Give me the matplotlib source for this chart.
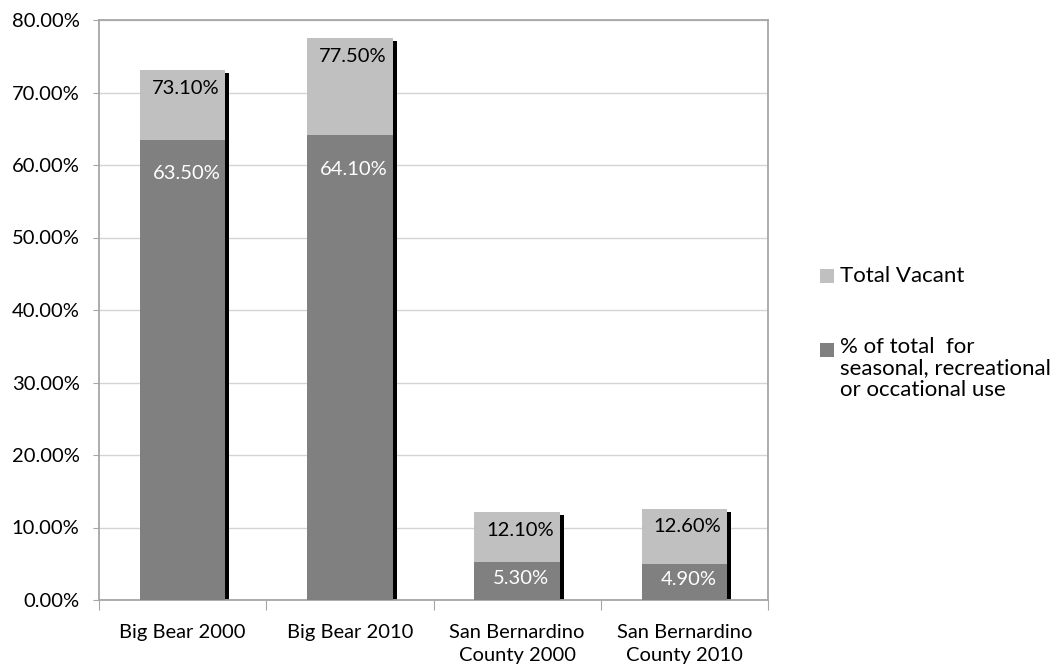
import numpy as np
import matplotlib
matplotlib.use('Agg')
from matplotlib import pyplot as plt
from matplotlib import transforms
from matplotlib.patches import Rectangle

plt.rcParams['font.family'] = ['Lato', 'DejaVu Sans']

categories = ['Big Bear 2000', 'Big Bear 2010', 'San Bernardino\nCounty 2000', 'San Bernardino\nCounty 2010']
total_vacant = [73.1, 77.5, 12.1, 12.6]
seasonal = [63.5, 64.1, 5.3, 4.9]
legend_labels = ['Total Vacant', '% of total  for\nseasonal, recreational\nor occational use']

light = '#c0c0c0'
dark = '#808080'
frame = '#a6a6a6'

fig = plt.figure(figsize=(10.61, 6.72), dpi=100)
ax = fig.add_axes([99/1061, 72/672, 669/1061, 580/672])

x = np.arange(len(categories))
w = 0.51

# black drop shadow, shifted a few px right/down
shadow_tr = ax.transData + transforms.ScaledTranslation(4/100, -3/100, fig.dpi_scale_trans)
sh = ax.bar(x, total_vacant, w, color='black', zorder=2)
for p in sh:
    p.set_transform(shadow_tr)

ax.bar(x, total_vacant, w, color=light, zorder=3)
ax.bar(x, seasonal, w, color=dark, zorder=4)

px_per_pct = 580/80
for i in range(len(x)):
    ax.annotate('%.2f%%' % total_vacant[i], (x[i], total_vacant[i]), xytext=(2, -18*0.72),
                textcoords='offset points', ha='center', va='center', fontsize=14.5, color='black', zorder=5)
    off = min(34, 0.43*seasonal[i]*px_per_pct)
    ax.annotate('%.2f%%' % seasonal[i], (x[i], seasonal[i]), xytext=(3, -off*0.72),
                textcoords='offset points', ha='center', va='center', fontsize=14.5, color='white', zorder=5)

ax.set_xlim(-0.5, 3.5)
ax.set_ylim(0, 80)
ax.set_yticks(np.arange(0, 81, 10))
ax.set_yticklabels(['%.2f%%' % v for v in np.arange(0, 81, 10)], fontsize=14.5)
ax.yaxis.grid(True, color='#d4d4d4', lw=1)
ax.set_axisbelow(True)
ax.tick_params(axis='y', length=4, color=frame, pad=10)

ax.set_xticks(np.arange(-0.5, 4, 1))
ax.set_xticklabels([])
ax.set_xticks(x, minor=True)
ax.set_xticklabels(categories, minor=True, fontsize=14.5, linespacing=1.45)
ax.tick_params(axis='x', which='major', length=7, color=frame)
ax.tick_params(axis='x', which='minor', length=0, pad=17)

for s in ax.spines.values():
    s.set_color(frame)
    s.set_linewidth(1.3)

# legend drawn by hand, square handles aligned to first text line
H, W = 672, 1061
fig.patches.append(Rectangle((820/W, 1 - 283/H), 14/W, 14/H, transform=fig.transFigure,
                             facecolor=light, edgecolor='none'))
fig.text(840/W, 1 - 276/H, legend_labels[0], fontsize=16, va='center', ha='left')
fig.patches.append(Rectangle((820/W, 1 - 357/H), 14/W, 14/H, transform=fig.transFigure,
                             facecolor=dark, edgecolor='none'))
fig.text(840/W, 1 - 337/H, legend_labels[1], fontsize=16, va='top', ha='left', linespacing=1.08)

fig.savefig('out.png', dpi=100)
